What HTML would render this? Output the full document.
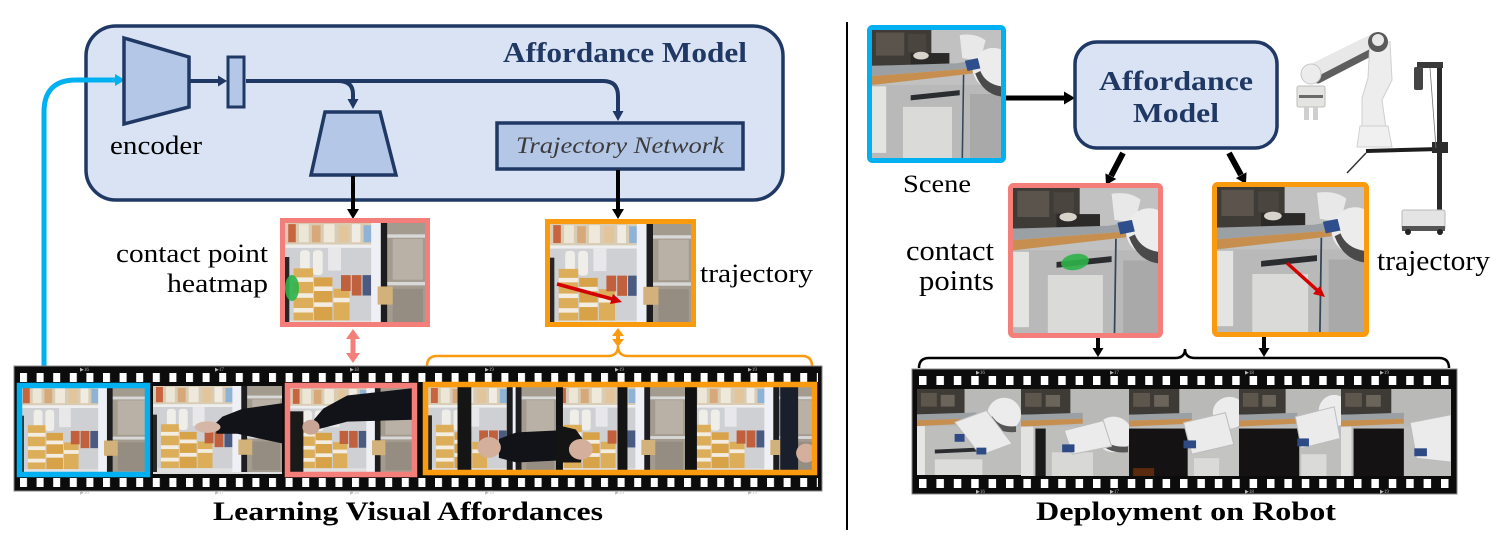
<!DOCTYPE html>
<html><head><meta charset="utf-8"><style>
html,body{margin:0;padding:0;background:#fff;}
svg{display:block;}
text{font-family:"Liberation Serif",serif;}
</style></head><body>
<svg width="1498" height="554" viewBox="0 0 1498 554" xmlns="http://www.w3.org/2000/svg">
<defs>
<pattern id="hl" x="20" y="0" width="16.6" height="554" patternUnits="userSpaceOnUse"><rect x="0" y="0" width="7" height="554" fill="#fff"/></pattern>
<pattern id="hr" x="919" y="0" width="17.4" height="554" patternUnits="userSpaceOnUse"><rect x="0" y="0" width="7.5" height="554" fill="#fff"/></pattern>
<symbol id="fr" viewBox="0 0 130 90" preserveAspectRatio="none">
<rect width="130" height="90" fill="#c4c2be"/>
<rect x="0" y="0" width="88" height="19" fill="#d9ccb4"/>
<rect x="3" y="1" width="7" height="16" fill="#c8643e"/>
<rect x="13" y="1" width="9" height="16" fill="#ece6d6"/>
<rect x="25" y="2" width="8" height="15" fill="#d7a97a"/>
<rect x="36" y="1" width="10" height="16" fill="#efe9dc"/>
<rect x="50" y="2" width="9" height="15" fill="#e3c59c"/>
<rect x="62" y="1" width="8" height="16" fill="#f0ece4"/>
<rect x="73" y="2" width="8" height="15" fill="#8fb3d6"/>
<rect x="0" y="19" width="88" height="3" fill="#eeeeee"/>
<rect x="0" y="22" width="88" height="68" fill="#cfd0d3"/>
<rect x="14" y="24" width="9" height="22" rx="3" fill="#efeee9"/>
<rect x="26" y="24" width="9" height="22" rx="3" fill="#efeee9"/>
<rect x="40" y="22" width="12" height="20" fill="#e8e8ea"/>
<rect x="8" y="40" width="18" height="46" fill="#dcae5a"/>
<rect x="8" y="48" width="18" height="4" fill="#f3ece0"/>
<rect x="8" y="62" width="18" height="4" fill="#f3ece0"/>
<rect x="8" y="75" width="18" height="4" fill="#f3ece0"/>
<rect x="27" y="48" width="17" height="38" fill="#d8a248"/>
<rect x="27" y="56" width="17" height="4" fill="#f3ece0"/>
<rect x="27" y="70" width="17" height="4" fill="#f3ece0"/>
<rect x="45" y="58" width="15" height="28" fill="#dcae5a"/>
<rect x="45" y="66" width="15" height="4" fill="#f3ece0"/>
<rect x="52" y="46" width="9" height="14" fill="#c0603c"/>
<rect x="62" y="46" width="9" height="18" fill="#c0603c"/>
<rect x="72" y="46" width="8" height="18" fill="#4a5a80"/>
<rect x="0" y="86" width="88" height="4" fill="#e0e0e0"/>
<rect x="80" y="0" width="9" height="90" fill="#eef0f5"/>
<rect x="89" y="0" width="6" height="90" fill="#1d1d1f"/>
<rect x="95" y="0" width="35" height="90" fill="#a49b8f"/>
<rect x="95" y="10" width="35" height="3" fill="#d8d8d8"/>
<rect x="95" y="52" width="35" height="3" fill="#d8d8d8"/>
<rect x="100" y="14" width="28" height="36" fill="#b9b1a6"/>
<rect x="100" y="58" width="28" height="30" fill="#968d82"/>
<rect x="86" y="56" width="14" height="16" fill="#d2b27a"/>
<rect x="0" y="30" width="4" height="60" fill="#262626"/>
</symbol>
<symbol id="kt" viewBox="0 0 100 100" preserveAspectRatio="none">
<rect width="100" height="100" fill="#c0c1c0"/>
<rect x="0" y="0" width="46" height="28" fill="#3f3b36"/>
<rect x="3" y="2" width="22" height="18" fill="#5a544c"/>
<rect x="28" y="3" width="14" height="14" fill="#4a453f"/>
<rect x="30" y="18" width="30" height="10" fill="#2b2a28"/>
<ellipse cx="38" cy="20" rx="6" ry="3" fill="#d8d4cc"/>
<polygon points="0,28 66,26 78,24 78,30 0,36" fill="#9aa0a4"/>
<polygon points="0,36 78,30 78,34 0,43" fill="#c68f50"/>
<rect x="0" y="43" width="100" height="57" fill="#b8b9b8"/>
<rect x="0" y="44" width="11" height="52" fill="#e4e4e3"/>
<polygon points="30,51 68,47 68,51 30,55" fill="#2a2c30"/>
<rect x="24" y="60" width="38" height="40" fill="#dadad8"/>
<line x1="71" y1="35" x2="70" y2="100" stroke="#34465a" stroke-width="1.2"/>
<rect x="76" y="50" width="24" height="50" fill="#a8a9a8"/>
<path d="M68,4 Q80,2 88,8 L84,24 L70,22 Z" fill="#e8e8e8"/>
<circle cx="94" cy="30" r="16" fill="#ececec"/>
<path d="M80,34 Q86,50 100,52 L100,44 Q88,42 84,32 Z" fill="#4a4a4a"/>
<polygon points="72,24 82,22 84,30 74,32" fill="#2f4f8c"/>
</symbol>
<symbol id="rk" viewBox="0 0 105 88" preserveAspectRatio="none">
<rect width="105" height="88" fill="#b9b9b8"/>
<rect width="48" height="26" fill="#3e3a35"/>
<rect x="4" y="4" width="16" height="14" fill="#5c564d"/>
<rect x="24" y="6" width="14" height="12" fill="#6a645a"/>
<polygon points="0,26 60,24 60,30 0,32" fill="#9aa0a4"/>
<polygon points="0,32 60,30 60,35 0,38" fill="#c68f50"/>
<rect x="0" y="38" width="105" height="50" fill="#bebebc"/>
</symbol>
</defs>

<!-- ================= LEFT PANEL ================= -->
<rect x="86" y="26" width="697" height="174" rx="30" ry="30" fill="#dae3f3" stroke="#203864" stroke-width="3.5"/>
<text x="503" y="62" font-size="28" font-weight="bold" fill="#203864" textLength="244" lengthAdjust="spacingAndGlyphs">Affordance Model</text>

<path d="M44,384 V112 Q44,80 76,80 H116" stroke="#00b0f0" stroke-width="5" fill="none"/>
<polygon points="125,80 115,74 115,86" fill="#00b0f0"/>

<polygon points="124,38 189,57 189,107 124,124" fill="#b4c7e7" stroke="#203864" stroke-width="3.5"/>
<text x="110" y="154" font-size="26" fill="#000" textLength="92" lengthAdjust="spacingAndGlyphs">encoder</text>
<line x1="190" y1="81" x2="219" y2="81" stroke="#203864" stroke-width="4"/>
<polygon points="227,81 218,75.5 218,86.5" fill="#203864"/>
<rect x="228" y="57" width="16" height="50" fill="#b4c7e7" stroke="#203864" stroke-width="3"/>

<path d="M246,81 H603 Q618,81 618,96 V113" stroke="#203864" stroke-width="4" fill="none"/>
<polygon points="618,121 612.5,111 623.5,111" fill="#203864"/>
<path d="M338,81 Q353,81 353,94 V100" stroke="#203864" stroke-width="4" fill="none"/>
<polygon points="353,109 347.5,99 358.5,99" fill="#203864"/>

<polygon points="325,112 380,112 396,175 311,175" fill="#b4c7e7" stroke="#203864" stroke-width="3.5"/>

<rect x="497" y="123" width="246" height="46" fill="#b4c7e7" stroke="#203864" stroke-width="3.5"/>
<text x="516" y="153" font-size="23" font-style="italic" fill="#3b3b3b" textLength="208" lengthAdjust="spacingAndGlyphs">Trajectory Network</text>

<line x1="353" y1="176" x2="353" y2="210" stroke="#000" stroke-width="4"/>
<polygon points="353,219 347,209 359,209" fill="#000"/>
<line x1="618" y1="170" x2="618" y2="210" stroke="#000" stroke-width="4"/>
<polygon points="618,219 612,209 624,209" fill="#000"/>

<use href="#fr" x="285" y="223" width="140" height="102"/>
<ellipse cx="292" cy="288" rx="7" ry="13" fill="#2db34a" opacity="0.9"/>
<rect x="282.5" y="220.5" width="145" height="104" fill="none" stroke="#f47f7a" stroke-width="5"/>
<text x="268" y="262" font-size="26" text-anchor="end" textLength="152" lengthAdjust="spacingAndGlyphs">contact point</text>
<text x="268" y="292" font-size="26" text-anchor="end" textLength="101" lengthAdjust="spacingAndGlyphs">heatmap</text>

<use href="#fr" x="550" y="224" width="141" height="101"/>
<line x1="557" y1="284" x2="612" y2="299" stroke="#d40000" stroke-width="3.5"/>
<polygon points="622,302 610,304 613,294" fill="#d40000"/>
<rect x="547.5" y="221.5" width="146" height="103" fill="none" stroke="#fa9b0f" stroke-width="5"/>
<text x="700" y="282" font-size="26" textLength="113" lengthAdjust="spacingAndGlyphs">trajectory</text>

<line x1="353" y1="337" x2="353" y2="354" stroke="#f47f7a" stroke-width="5"/>
<polygon points="353,329 346,339 360,339" fill="#f47f7a"/>
<polygon points="353,363 346,353 360,353" fill="#f47f7a"/>
<polygon points="618,328 612,336 624,336" fill="#fa9b0f"/>
<polygon points="618,347 612,339 624,339" fill="#fa9b0f"/>
<line x1="618" y1="333" x2="618" y2="342" stroke="#fa9b0f" stroke-width="4"/>

<path d="M427,366 Q427,356 437,356 H608 Q618,356 618,346 Q618,356 628,356 H802 Q812,356 812,366" stroke="#fa9b0f" stroke-width="2.5" fill="none"/>

<rect x="14" y="366" width="808" height="125" fill="#0c0c0c" stroke="#888" stroke-width="1"/>
<rect x="18" y="373" width="800" height="9" fill="url(#hl)"/>
<rect x="18" y="478" width="800" height="9" fill="url(#hl)"/>
<g font-size="5" fill="#bbb">
<text x="80" y="371">▶16</text><text x="215" y="371">▶17</text><text x="350" y="371">▶18</text><text x="485" y="371">▶19</text><text x="615" y="371">▶19</text><text x="748" y="371">▶19</text>
<text x="80" y="494">▶16</text><text x="215" y="494">▶17</text><text x="350" y="494">▶18</text><text x="485" y="494">▶19</text><text x="615" y="494">▶19</text><text x="748" y="494">▶19</text>
</g>

<use href="#fr" x="20" y="387" width="127" height="86"/>
<rect x="19.5" y="385.5" width="128" height="89" fill="none" stroke="#00b0f0" stroke-width="5.5"/>

<svg x="153" y="386" width="129" height="86" viewBox="0 0 130 90" preserveAspectRatio="none">
<use href="#fr" x="0" y="0" width="130" height="90"/>
<polygon points="130,18 90,24 70,32 62,40 64,50 85,50 130,60" fill="#121318"/>
<ellipse cx="55" cy="43" rx="13" ry="6" fill="#d6b6a6"/>
</svg>
<rect x="153" y="472" width="129" height="2" fill="#ddd"/>

<svg x="290" y="388" width="124" height="84" viewBox="0 0 130 90" preserveAspectRatio="none">
<use href="#fr" x="0" y="0" width="130" height="90"/>
<polygon points="130,0 60,8 35,22 25,34 30,44 60,36 130,34" fill="#121318"/>
<rect x="0" y="25" width="14" height="65" fill="#1a1a1a"/>
<ellipse cx="22" cy="42" rx="9" ry="8" fill="#c9a595"/>
</svg>
<rect x="287.5" y="385.5" width="127" height="89" fill="none" stroke="#f47f7a" stroke-width="5.5"/>

<svg x="428" y="387" width="128" height="85" viewBox="0 0 130 90" preserveAspectRatio="none">
<use href="#fr" x="0" y="0" width="130" height="90"/>
<rect x="30" y="0" width="14" height="90" fill="#151515"/>
<rect x="80" y="0" width="6" height="90" fill="#1c1c1c"/>
<polygon points="130,46 90,48 72,55 72,75 90,80 130,78" fill="#121318"/>
<ellipse cx="62" cy="64" rx="12" ry="11" fill="#d4b09c"/>
</svg>
<svg x="556" y="387" width="129" height="85" viewBox="0 0 130 90" preserveAspectRatio="none">
<use href="#fr" x="0" y="0" width="130" height="90"/>
<rect x="0" y="0" width="7" height="90" fill="#111"/>
<rect x="62" y="0" width="10" height="90" fill="#141414"/>
<polygon points="0,40 20,45 30,60 25,80 0,80" fill="#141414"/>
<ellipse cx="25" cy="66" rx="12" ry="11" fill="#d4b09c"/>
</svg>
<svg x="685" y="387" width="129" height="85" viewBox="0 0 130 90" preserveAspectRatio="none">
<use href="#fr" x="0" y="0" width="130" height="90"/>
<rect x="0" y="0" width="12" height="90" fill="#111"/>
<rect x="96" y="0" width="18" height="90" fill="#1a1f2c"/>
<ellipse cx="122" cy="70" rx="10" ry="10" fill="#d4b09c"/>
</svg>
<rect x="425.5" y="384.5" width="389" height="88" fill="none" stroke="#fa9b0f" stroke-width="5.5"/>

<text x="213" y="520" font-size="26" font-weight="bold" textLength="390" lengthAdjust="spacingAndGlyphs">Learning Visual Affordances</text>

<line x1="847" y1="22" x2="847" y2="530" stroke="#000" stroke-width="2"/>

<!-- ================= RIGHT PANEL ================= -->
<use href="#kt" x="872" y="30" width="129" height="128"/>
<rect x="869.5" y="27.5" width="134" height="133" rx="3" fill="none" stroke="#00b0f0" stroke-width="5"/>
<text x="903" y="192" font-size="25" textLength="68" lengthAdjust="spacingAndGlyphs">Scene</text>

<line x1="1006" y1="98" x2="1065" y2="98" stroke="#000" stroke-width="5"/>
<polygon points="1075,98 1064,91.5 1064,104.5" fill="#000"/>

<rect x="1075" y="42" width="202" height="106" rx="22" ry="22" fill="#dae3f3" stroke="#203864" stroke-width="3.5"/>
<text x="1176" y="90" font-size="27" font-weight="bold" fill="#203864" text-anchor="middle" textLength="154" lengthAdjust="spacingAndGlyphs">Affordance</text>
<text x="1176" y="122" font-size="27" font-weight="bold" fill="#203864" text-anchor="middle" textLength="86" lengthAdjust="spacingAndGlyphs">Model</text>

<line x1="1123" y1="153" x2="1111" y2="176" stroke="#000" stroke-width="6"/>
<polygon points="1106,185 1116.3,179 1105.4,173.4" fill="#000"/>
<line x1="1229" y1="153" x2="1241" y2="175" stroke="#000" stroke-width="6"/>
<polygon points="1246,184 1235.9,178.1 1246.5,172.3" fill="#000"/>

<use href="#kt" x="1013" y="188" width="145" height="145"/>
<ellipse cx="1075" cy="262" rx="14" ry="8" fill="#2db34a" opacity="0.9" transform="rotate(-10 1075 262)"/>
<rect x="1010.5" y="185.5" width="150" height="150" rx="3" fill="none" stroke="#f47f7a" stroke-width="5"/>
<text x="994" y="260" font-size="28" text-anchor="end" textLength="88" lengthAdjust="spacingAndGlyphs">contact</text>
<text x="994" y="290" font-size="28" text-anchor="end" textLength="75" lengthAdjust="spacingAndGlyphs">points</text>

<use href="#kt" x="1217" y="187" width="147" height="145"/>
<line x1="1287" y1="263" x2="1317" y2="290" stroke="#d40000" stroke-width="3.5"/>
<polygon points="1325,297 1313,294 1320,286" fill="#d40000"/>
<rect x="1214.5" y="184.5" width="152" height="150" rx="3" fill="none" stroke="#fa9b0f" stroke-width="5"/>
<text x="1377" y="270" font-size="28" textLength="113" lengthAdjust="spacingAndGlyphs">trajectory</text>

<!-- robot -->
<g>
<rect x="1297" y="86" width="28" height="21" rx="2" fill="#e4e4e2" stroke="#bdbdbb" stroke-width="1"/>
<rect x="1299" y="95" width="24" height="3" fill="#6a6a6a"/>
<rect x="1304" y="107" width="5" height="13" fill="#cfcfcf"/>
<rect x="1313" y="107" width="5" height="13" fill="#cfcfcf"/>
<line x1="1313" y1="74" x2="1376" y2="43" stroke="#e8e8e8" stroke-width="20" stroke-linecap="round"/>
<line x1="1318" y1="80" x2="1372" y2="52" stroke="#5e5e5e" stroke-width="7" stroke-linecap="round"/>
<circle cx="1311" cy="74" r="10" fill="#ececec" stroke="#c8c8c8"/>
<polygon points="1370,40 1390,42 1392,80 1382,100 1386,128 1362,128 1362,98 1368,78" fill="#ededed" stroke="#cfcfcf" stroke-width="1"/>
<circle cx="1378" cy="42" r="10" fill="#5a5a5a"/>
<circle cx="1378" cy="40" r="6" fill="#e8e8e8"/>
<path d="M1357,147 L1360,126 L1388,126 L1392,147 Z" fill="#f0f0f0" stroke="#d0d0d0"/>
<rect x="1437" y="63" width="5" height="157" fill="#2a2a2a"/>
<rect x="1417" y="62" width="26" height="6" fill="#3a3a3a"/>
<rect x="1414" y="67" width="9" height="23" rx="2" fill="#444"/>
<line x1="1366" y1="151" x2="1440" y2="149" stroke="#1e1e1e" stroke-width="4"/>
<rect x="1432" y="142" width="16" height="11" fill="#2c2c2c"/>
<line x1="1366" y1="153" x2="1347" y2="173" stroke="#333" stroke-width="1.5"/>
<line x1="1430" y1="68" x2="1436" y2="148" stroke="#777" stroke-width="0.8"/>
<rect x="1402" y="210" width="43" height="20" rx="2" fill="#e4e4e4" stroke="#b8b8b8"/>
<rect x="1402" y="226" width="43" height="5" fill="#555"/>
<circle cx="1408" cy="232" r="3" fill="#222"/>
<circle cx="1440" cy="232" r="3" fill="#222"/>
</g>

<line x1="1098" y1="338" x2="1098" y2="349" stroke="#000" stroke-width="4"/>
<polygon points="1098,357 1092.5,348 1103.5,348" fill="#000"/>
<line x1="1264" y1="337" x2="1264" y2="349" stroke="#000" stroke-width="4"/>
<polygon points="1264,357 1258.5,348 1269.5,348" fill="#000"/>

<path d="M919,368 Q919,358 929,358 H1175 Q1185,358 1185,349 Q1185,358 1195,358 H1439 Q1449,358 1449,368" stroke="#000" stroke-width="2.5" fill="none"/>

<rect x="912" y="369" width="545" height="125" fill="#0c0c0c" stroke="#888" stroke-width="1"/>
<rect x="916" y="376" width="538" height="9" fill="url(#hr)"/>
<rect x="916" y="479" width="538" height="9" fill="url(#hr)"/>
<g font-size="5" fill="#bbb">
<text x="976" y="374">▶16</text><text x="1110" y="374">▶17</text><text x="1245" y="374">▶18</text><text x="1380" y="374">▶19</text>
<text x="976" y="493">▶16</text><text x="1110" y="493">▶17</text><text x="1245" y="493">▶18</text><text x="1380" y="493">▶19</text>
</g>

<svg x="917" y="389" width="104" height="86" viewBox="0 0 105 88" preserveAspectRatio="none">
<use href="#rk" x="0" y="0" width="105" height="88"/>
<polygon points="18,62 62,60 62,64 18,66" fill="#2a2c30"/>
<rect x="18" y="72" width="48" height="16" fill="#dcdcda"/>
<rect x="0" y="38" width="8" height="50" fill="#e6e6e4"/>
<circle cx="88" cy="26" r="17" fill="#ececec"/>
<path d="M72,30 Q80,46 100,44 L100,38 Q84,40 76,28 Z" fill="#555"/>
<polygon points="38,34 70,22 96,56 64,68" fill="#ebebeb" stroke="#bcbcbc"/>
<rect x="38" y="46" width="10" height="8" fill="#2d4a85"/>
<rect x="60" y="60" width="10" height="7" fill="#2d4a85"/>
</svg>
<svg x="1021" y="389" width="108" height="87" viewBox="0 0 105 88" preserveAspectRatio="none">
<use href="#rk" x="0" y="0" width="105" height="88"/>
<rect x="0" y="38" width="12" height="50" fill="#e2e2e0"/>
<rect x="14" y="40" width="10" height="48" fill="#1a1a1a"/>
<rect x="30" y="64" width="40" height="24" fill="#d8d8d6"/>
<circle cx="90" cy="46" r="18" fill="#ececec"/>
<path d="M74,50 Q82,66 104,64 L104,58 Q86,60 78,48 Z" fill="#555"/>
<polygon points="42,42 80,32 88,58 50,66" fill="#ebebeb" stroke="#bcbcbc"/>
<rect x="40" y="56" width="12" height="8" fill="#2d4a85"/>
</svg>
<svg x="1129" y="389" width="110" height="87" viewBox="0 0 105 88" preserveAspectRatio="none">
<use href="#rk" x="0" y="0" width="105" height="88"/>
<rect x="0" y="40" width="58" height="48" fill="#141212"/>
<rect x="4" y="80" width="20" height="8" fill="#5a2a10"/>
<rect x="56" y="40" width="49" height="48" fill="#c4c4c2"/>
<circle cx="96" cy="24" r="16" fill="#ececec"/>
<polygon points="52,34 92,24 100,56 60,66" fill="#ebebeb" stroke="#bcbcbc"/>
<rect x="52" y="52" width="12" height="8" fill="#2d4a85"/>
<rect x="62" y="70" width="24" height="18" fill="#dadad8"/>
</svg>
<svg x="1239" y="389" width="102" height="87" viewBox="0 0 105 88" preserveAspectRatio="none">
<use href="#rk" x="0" y="0" width="105" height="88"/>
<rect x="0" y="40" width="62" height="48" fill="#141212"/>
<circle cx="98" cy="22" r="16" fill="#ececec"/>
<polygon points="58,28 98,18 104,50 64,60" fill="#ebebeb" stroke="#bcbcbc"/>
<rect x="60" y="50" width="12" height="8" fill="#2d4a85"/>
<rect x="64" y="66" width="26" height="22" fill="#dadad8"/>
</svg>
<svg x="1341" y="389" width="110" height="87" viewBox="0 0 105 88" preserveAspectRatio="none">
<use href="#rk" x="0" y="0" width="105" height="88"/>
<rect x="0" y="38" width="10" height="50" fill="#e2e2e0"/>
<rect x="12" y="40" width="48" height="48" fill="#141212"/>
<polygon points="66,34 105,26 105,74 72,70" fill="#ebebeb" stroke="#bcbcbc"/>
<rect x="70" y="60" width="12" height="8" fill="#2d4a85"/>
</svg>

<text x="1036" y="520" font-size="26" font-weight="bold" textLength="300" lengthAdjust="spacingAndGlyphs">Deployment on Robot</text>
</svg>
</body></html>
